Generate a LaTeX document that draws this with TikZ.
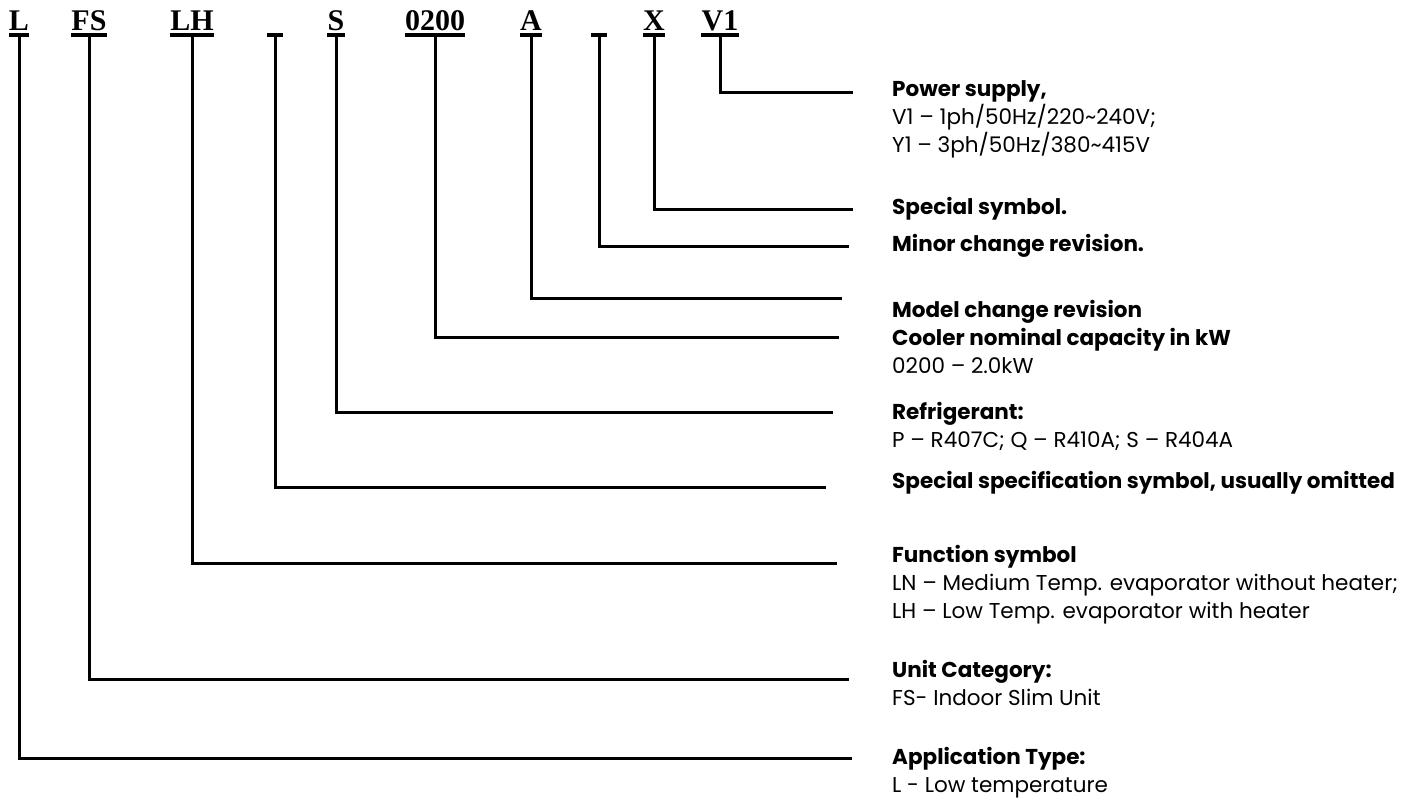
\documentclass[tikz,border=0pt]{standalone}
\usepackage{fontspec}
\setmainfont{Poppins}
\newfontfamily\codefont{Liberation Serif}
\usepackage{tikz}

\tikzset{
  code/.style={anchor=base,inner xsep=0pt,inner ysep=5pt,text depth=0pt,
    font=\codefont\bfseries\fontsize{30}{30}\selectfont},
  gap/.style={code,minimum width=16pt},
  ubar/.style={line width=3.5pt},
  lead/.style={line width=3pt},
  desc/.style={anchor=base west,inner sep=0pt,align=left,
    font=\fontsize{21.5}{28}\selectfont},
}

\begin{document}
\begin{tikzpicture}[x=1pt,y=-1pt]
\useasboundingbox (0,0) rectangle (1411,798);

% model code
\node[code] (l) at (19,30) {L};
\node[code] (fs) at (89,30) {FS};
\node[code] (lh) at (192,30) {LH};
\node[gap] (ga) at (275,30) {};
\node[code] (s) at (336,30) {S};
\node[code] (cap) at (435,30) {0200};
\node[code] (rev) at (531,30) {A};
\node[gap] (gb) at (599,30) {};
\node[code] (x) at (654,30) {X};
\node[code] (v1) at (720,30) {V1};

\foreach \n in {l,fs,lh,ga,s,cap,rev,gb,x,v1}
  \draw[ubar] (\n.south west) -- (\n.south east);

% ends of the leaders
\coordinate (e-v1) at (853,92);
\coordinate (e-x) at (853,209);
\coordinate (e-gb) at (849,246);
\coordinate (e-rev) at (842,298);
\coordinate (e-cap) at (839,337);
\coordinate (e-s) at (833,412);
\coordinate (e-ga) at (826,487);
\coordinate (e-lh) at (837,563);
\coordinate (e-fs) at (849,679);
\coordinate (e-l) at (852,758);

\foreach \n in {l,fs,lh,ga,s,cap,rev,gb,x,v1}
  \draw[lead] (\n.south) |- (e-\n);

% descriptions (anchored on the baseline of the last line)
\node[desc] (d-v1) at (892,152) {\textbf{Power supply,}\\V1 – 1ph/50Hz/220\textasciitilde 240V;\\Y1 – 3ph/50Hz/380\textasciitilde 415V};
\node[desc] (d-x) at (892,214) {\textbf{Special symbol.}};
\node[desc] (d-gb) at (892,251) {\textbf{Minor change revision.}};
\node[desc] (d-rev) at (892,317) {\textbf{Model change revision}};
\node[desc] (d-cap) at (892,373) {\textbf{Cooler nominal capacity in kW}\\0200 – 2.0kW};
\node[desc] (d-s) at (892,447) {\textbf{Refrigerant:}\\P – R407C; Q – R410A; S – R404A};
\node[desc] (d-ga) at (892,488) {\textbf{Special specification symbol, usually omitted}};
\node[desc] (d-lh) at (892,618) {\textbf{Function symbol}\\LN – Medium Temp. evaporator without heater;\\LH – Low Temp. evaporator with heater};
\node[desc] (d-fs) at (892,705) {\textbf{Unit Category:}\\FS- Indoor Slim Unit};
\node[desc] (d-l) at (892,792) {\textbf{Application Type:}\\L - Low temperature};
\end{tikzpicture}
\end{document}
